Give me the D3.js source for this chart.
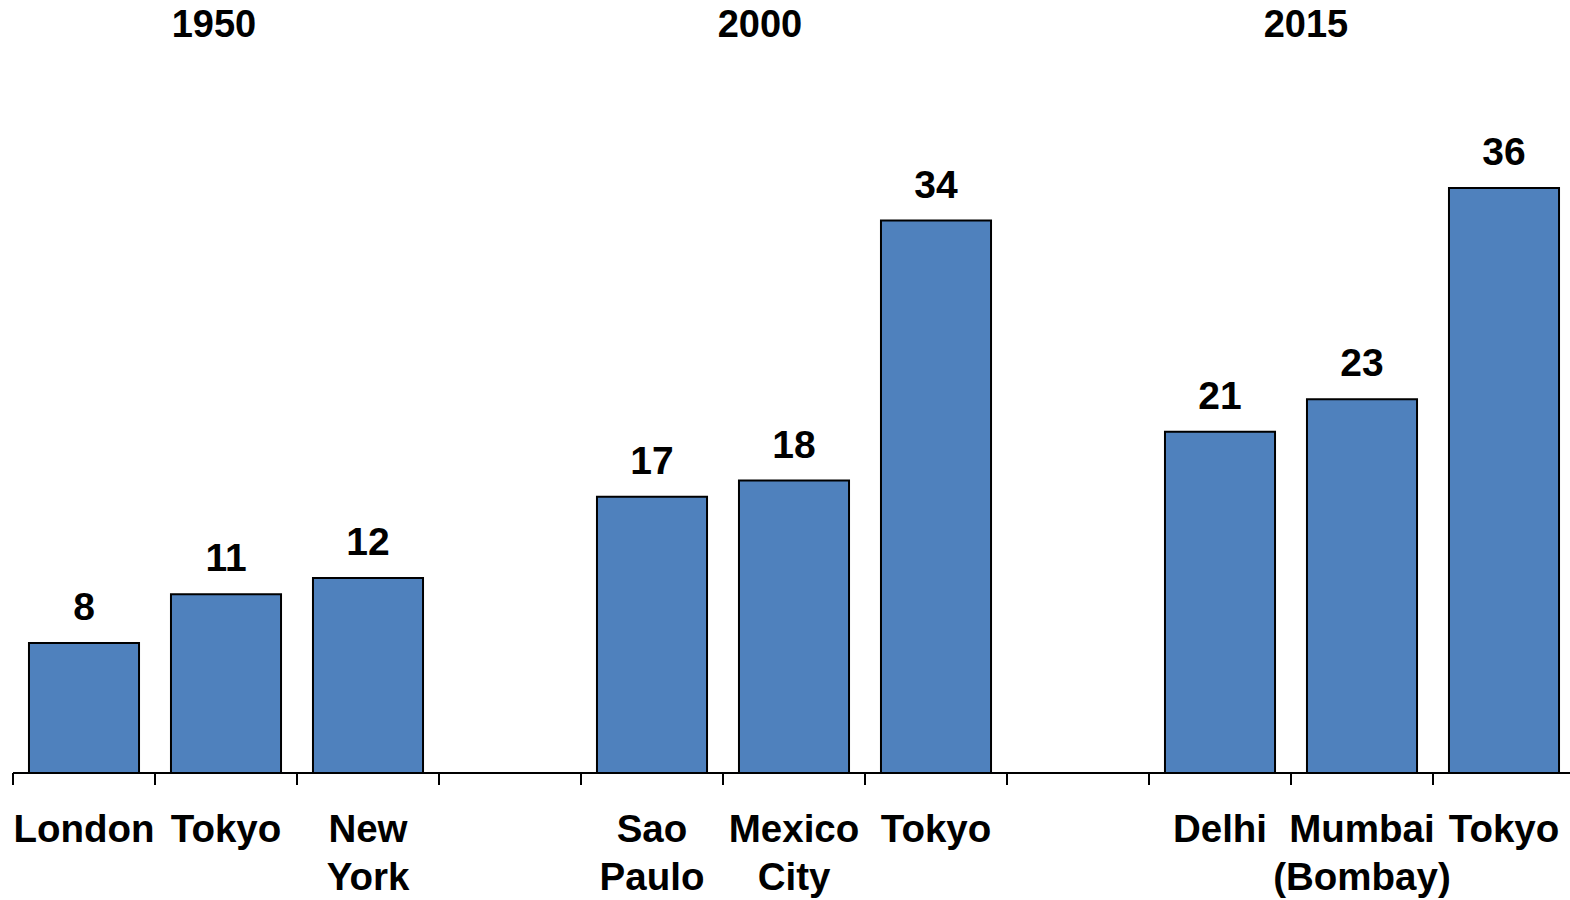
<!DOCTYPE html>
<html>
<head>
<meta charset="utf-8">
<script src="https://cdn.jsdelivr.net/npm/d3@7"></script>
<style>
  html, body { margin: 0; padding: 0; background: #fff; }
  svg { display: block; }
  text { font-family: "Liberation Sans", Arial, sans-serif; font-weight: bold; fill: #000; }
</style>
</head>
<body>
<svg id="chart" width="1570" height="900"></svg>
<script>
// ---- data ----
const categories = ["London", "Tokyo", "New\nYork", "", "Sao\nPaulo", "Mexico\nCity", "Tokyo", "", "Delhi", "Mumbai\n(Bombay)", "Tokyo"];
const values = [8, 11, 12, null, 17, 18, 34, null, 21, 23, 36];
const years = ["1950", "2000", "2015"];

// ---- layout ----
const left = 13, right = 1575, baseY = 773, topY = 188;

const svg = d3.select("#chart");

const x = d3.scaleBand()
  .domain(d3.range(categories.length))
  .range([left, right])
  .paddingInner(0.225)
  .paddingOuter(0.1125);

const y = d3.scaleLinear().domain([0, 36]).range([baseY, topY]);

const yearX = d3.scalePoint().domain(years).range([214, 1306]);

// year titles
svg.selectAll("text.year")
  .data(years)
  .enter().append("text")
  .attr("class", "year")
  .attr("x", d => yearX(d))
  .attr("y", 37)
  .attr("text-anchor", "middle")
  .style("font-size", "38px")
  .text(d => d);

const barData = values.map((v, i) => ({ i, v })).filter(d => d.v != null);

// bars
svg.selectAll("rect.bar")
  .data(barData)
  .enter().append("rect")
  .attr("class", "bar")
  .attr("x", d => x(d.i))
  .attr("y", d => y(d.v))
  .attr("width", x.bandwidth())
  .attr("height", d => y(0) - y(d.v))
  .attr("fill", "#4F81BD")
  .attr("stroke", "#000")
  .attr("stroke-width", 2);

// value labels
svg.selectAll("text.val")
  .data(barData)
  .enter().append("text")
  .attr("class", "val")
  .attr("x", d => x(d.i) + x.bandwidth() / 2)
  .attr("y", d => y(d.v) - 23)
  .attr("text-anchor", "middle")
  .style("font-size", "39px")
  .text(d => d.v);

// axis line + ticks at slot boundaries
const step = x.step();
const boundaries = d3.range(categories.length + 1).map(i => left + i * step);
svg.append("line")
  .attr("x1", left).attr("x2", right)
  .attr("y1", y(0)).attr("y2", y(0))
  .attr("stroke", "#000").attr("stroke-width", 2);
svg.selectAll("line.tick")
  .data(boundaries)
  .enter().append("line")
  .attr("class", "tick")
  .attr("x1", d => d).attr("x2", d => d)
  .attr("y1", y(0)).attr("y2", y(0) + 12)
  .attr("stroke", "#000").attr("stroke-width", 2);

// category labels
const cat = svg.selectAll("text.cat")
  .data(categories.map((c, i) => ({ c, i })).filter(d => d.c))
  .enter().append("text")
  .attr("class", "cat")
  .attr("text-anchor", "middle")
  .style("font-size", "38.5px");
cat.each(function(d) {
  const lines = d.c.split("\n");
  const t = d3.select(this);
  lines.forEach((ln, k) => {
    t.append("tspan")
      .attr("x", x(d.i) + x.bandwidth() / 2)
      .attr("y", y(0) + 69 + k * 48)
      .text(ln);
  });
});
</script>
</body>
</html>
